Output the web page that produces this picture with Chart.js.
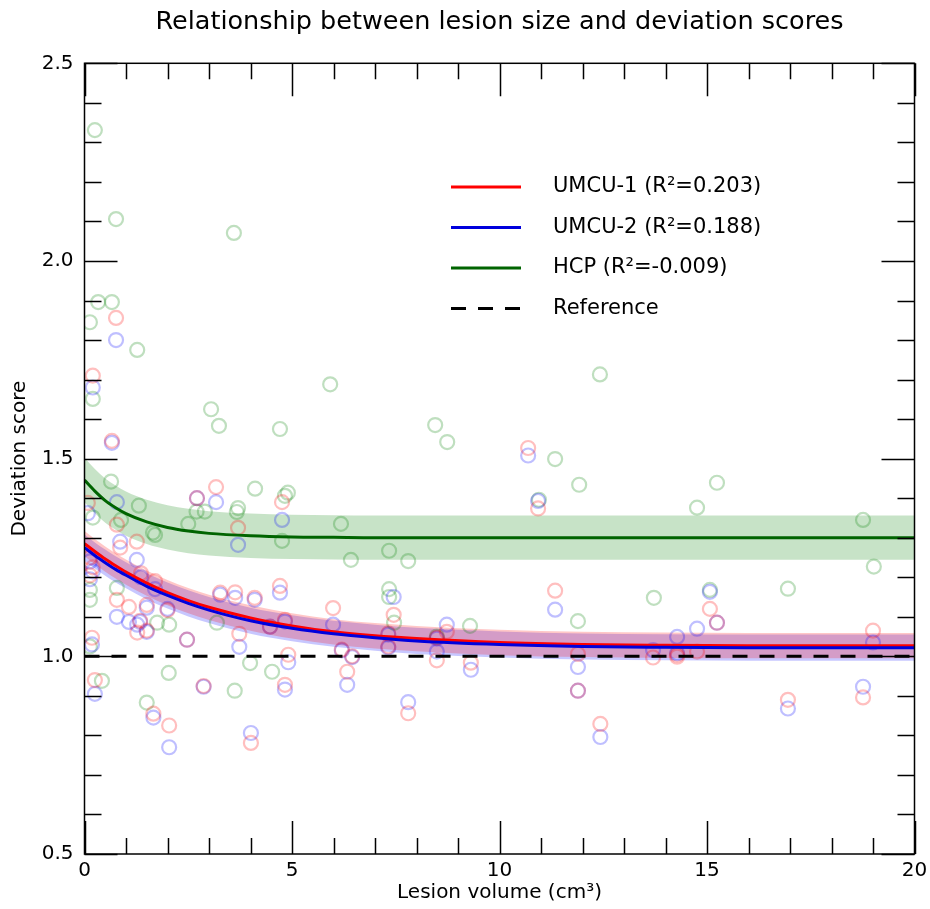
<!DOCTYPE html>
<html>
<head>
<meta charset="utf-8">
<script src="https://cdn.jsdelivr.net/npm/chart.js@4.4.1/dist/chart.umd.min.js"></script>
<style>
  html, body { margin: 0; padding: 0; background: #fff; }
  #wrap { width: 930px; height: 909px; }
</style>
</head>
<body>
<div id="wrap"><canvas id="grafico" width="930" height="909"></canvas></div>
<script>
// Datos: volumen de lesión (cm3) y puntuaciones de desviación
// UMCU-1 y UMCU-2 comparten los mismos sujetos (mismo volumen)
const umcuVolume = [0.76, 0.20, 0.66, 3.17, 2.71, 4.76, 3.70, 0.08, 0.78, 1.26,
  0.86, 0.13, 0.20, 0.13, 1.36, 1.70, 0.78, 1.07, 2.00, 1.50,
  1.34, 1.50, 1.27, 0.18, 2.47, 3.27, 0.25, 2.87, 1.66, 2.04,
  4.01, 4.91, 4.83, 3.73, 3.63, 4.10, 4.71, 4.83, 4.47, 5.99,
  6.20, 6.45, 6.33, 7.45, 7.32, 7.32, 8.49, 8.49, 8.73, 9.31,
  7.80, 11.34, 11.89, 11.89, 12.43, 13.70, 14.28, 14.28, 10.69, 10.93,
  15.07, 14.76, 15.24, 16.95, 18.76, 19.00];
const umcu1Score = [1.856, 1.710, 1.545, 1.428, 1.400, 1.390, 1.325, 1.388, 1.333, 1.290,
  1.275, 1.250, 1.225, 1.205, 1.210, 1.190, 1.143, 1.125, 1.117, 1.130,
  1.090, 1.065, 1.060, 1.047, 1.042, 1.161, 0.940, 0.925, 0.855, 0.825,
  0.781, 1.004, 0.928, 1.057, 1.162, 1.148, 1.178, 1.092, 1.075, 1.122,
  1.017, 1.000, 0.961, 1.105, 1.058, 1.025, 0.990, 1.047, 1.062, 0.984,
  0.856, 1.166, 1.006, 0.913, 0.829, 0.997, 1.004, 0.999, 1.527, 1.374,
  1.120, 1.012, 1.085, 0.890, 0.896, 1.065];
const umcu2Score = [1.800, 1.680, 1.540, 1.390, 1.400, 1.345, 1.282, 1.362, 1.390, 1.244,
  1.290, 1.240, 1.215, 1.195, 1.200, 1.170, 1.100, 1.087, 1.120, 1.123,
  1.087, 1.062, 1.080, 1.030, 1.042, 1.156, 0.905, 0.923, 0.845, 0.770,
  0.806, 0.985, 0.916, 1.024, 1.148, 1.143, 1.161, 1.088, 1.075, 1.080,
  1.015, 0.998, 0.928, 1.150, 1.055, 1.022, 1.012, 1.045, 1.080, 0.966,
  0.884, 1.118, 0.973, 0.913, 0.796, 1.016, 1.049, 1.008, 1.508, 1.393,
  1.163, 1.070, 1.085, 0.868, 0.923, 1.035];

const hcpVolume = [0.25, 0.76, 3.60, 0.13, 0.33, 0.66, 1.27, 0.20, 3.05, 3.24,
  4.71, 5.92, 8.45, 8.74, 11.34, 11.92, 10.95, 12.42, 14.76, 15.24,
  18.76, 19.02, 13.72, 15.07, 16.95, 6.18, 6.42, 7.34, 7.80, 7.34,
  7.34, 9.29, 11.89, 7.46, 8.49, 0.64, 1.31, 0.20, 0.88, 2.50,
  1.70, 2.70, 2.90, 3.67, 0.78, 0.13, 0.13, 1.75, 2.04, 0.13,
  0.42, 2.03, 1.50, 3.62, 4.11, 4.90, 4.83, 4.76, 3.99, 4.52,
  3.19, 1.65, 3.70];
const hcpScore = [2.331, 2.106, 2.071, 1.845, 1.896, 1.896, 1.775, 1.651, 1.625, 1.583,
  1.575, 1.688, 1.585, 1.542, 1.499, 1.434, 1.396, 1.713, 1.376, 1.439,
  1.345, 1.227, 1.148, 1.168, 1.171, 1.335, 1.244, 1.267, 1.241, 1.170,
  1.150, 1.077, 1.089, 1.085, 1.050, 1.442, 1.381, 1.351, 1.345, 1.335,
  1.307, 1.366, 1.366, 1.365, 1.173, 1.168, 1.143, 1.085, 1.080, 1.025,
  0.938, 0.958, 0.883, 0.913, 1.424, 1.414, 1.406, 1.292, 0.983, 0.961,
  1.085, 1.313, 1.375];

// Curvas ajustadas y bandas de confianza
const fitVolume = [0, 0.25, 0.5, 0.75, 1, 1.5, 2, 2.5, 3, 4, 5, 6, 7, 8, 10, 12, 14, 16, 18, 20];
const umcu1Fit   = [1.285, 1.265, 1.246, 1.229, 1.213, 1.185, 1.161, 1.141, 1.124, 1.097, 1.077, 1.062, 1.052, 1.045, 1.035, 1.030, 1.028, 1.027, 1.027, 1.027];
const umcu1Upper = [1.317, 1.297, 1.278, 1.261, 1.245, 1.217, 1.193, 1.173, 1.156, 1.129, 1.109, 1.094, 1.084, 1.077, 1.067, 1.062, 1.060, 1.059, 1.059, 1.059];
const umcu1Lower = [1.253, 1.233, 1.214, 1.197, 1.181, 1.153, 1.129, 1.109, 1.092, 1.065, 1.045, 1.030, 1.020, 1.013, 1.003, 0.998, 0.996, 0.995, 0.995, 0.995];
const umcu2Fit   = [1.275, 1.255, 1.237, 1.220, 1.205, 1.177, 1.154, 1.134, 1.117, 1.090, 1.071, 1.057, 1.047, 1.039, 1.030, 1.025, 1.023, 1.022, 1.022, 1.022];
const umcu2Upper = [1.308, 1.288, 1.270, 1.253, 1.238, 1.210, 1.187, 1.167, 1.150, 1.123, 1.104, 1.090, 1.080, 1.072, 1.063, 1.058, 1.056, 1.055, 1.055, 1.055];
const umcu2Lower = [1.242, 1.222, 1.204, 1.187, 1.172, 1.144, 1.121, 1.101, 1.084, 1.057, 1.038, 1.024, 1.014, 1.006, 0.997, 0.992, 0.990, 0.989, 0.989, 0.989];
const hcpFit     = [1.446, 1.418, 1.394, 1.376, 1.361, 1.340, 1.326, 1.317, 1.311, 1.305, 1.302, 1.301, 1.300, 1.300, 1.300, 1.300, 1.300, 1.300, 1.300, 1.300];
const hcpUpper   = [1.502, 1.474, 1.450, 1.432, 1.417, 1.396, 1.382, 1.373, 1.367, 1.361, 1.358, 1.357, 1.356, 1.356, 1.356, 1.356, 1.356, 1.356, 1.356, 1.356];
const hcpLower   = [1.390, 1.362, 1.338, 1.320, 1.305, 1.284, 1.270, 1.261, 1.255, 1.249, 1.246, 1.245, 1.244, 1.244, 1.244, 1.244, 1.244, 1.244, 1.244, 1.244];

const refVolume = [0, 20];
const refScore  = [1, 1];

const seriesLabels = ["UMCU-1 (R²=0.203)", "UMCU-2 (R²=0.188)", "HCP (R²=-0.009)", "Reference"];

const FONT = "'DejaVu Sans', sans-serif";

function toPoints(xs, ys) {
  return xs.map((x, i) => ({ x: x, y: ys[i] }));
}

function band(ys, fill, color) {
  return {
    type: "line",
    data: toPoints(fitVolume, ys),
    borderWidth: 0,
    pointRadius: 0,
    fill: fill,
    backgroundColor: color,
    cubicInterpolationMode: "monotone",
    order: 20
  };
}

function scatter(xs, ys, color) {
  return {
    type: "scatter",
    data: toPoints(xs, ys),
    pointRadius: 7,
    pointHoverRadius: 7,
    borderWidth: 2.2,
    borderColor: color,
    backgroundColor: "rgba(0,0,0,0)",
    order: 10
  };
}

function fitLine(ys, color, label, order) {
  return {
    type: "line",
    data: toPoints(fitVolume, ys),
    borderColor: color,
    borderWidth: 3,
    pointRadius: 0,
    fill: false,
    cubicInterpolationMode: "monotone",
    legendLabel: label,
    order: order
  };
}

// Marco y marcas de ejes hacia dentro (mayores y menores)
const framePlugin = {
  id: "frame",
  afterDraw(chart) {
    const ctx = chart.ctx;
    const a = chart.chartArea;
    const xs = chart.scales.x;
    const ys = chart.scales.y;
    ctx.save();
    ctx.strokeStyle = "#000";
    ctx.lineWidth = 1.5;
    for (let v = 0; v <= 20; v += 1) {
      const px = Math.round(xs.getPixelForValue(v)) + 0.5;
      const len = v % 5 === 0 ? 33 : 16;
      ctx.beginPath();
      ctx.moveTo(px, a.bottom); ctx.lineTo(px, a.bottom - len);
      ctx.moveTo(px, a.top); ctx.lineTo(px, a.top + len);
      ctx.stroke();
    }
    for (let i = 5; i <= 25; i++) {
      const py = Math.round(ys.getPixelForValue(i / 10)) + 0.5;
      const len = i % 5 === 0 ? 33 : 17;
      ctx.beginPath();
      ctx.moveTo(a.left, py); ctx.lineTo(a.left + len, py);
      ctx.moveTo(a.right, py); ctx.lineTo(a.right - len, py);
      ctx.stroke();
    }
    ctx.strokeRect(a.left, a.top, a.right - a.left, a.bottom - a.top);
    ctx.restore();
  }
};

// Leyenda dentro del área del gráfico
const legendPlugin = {
  id: "legendaInterna",
  afterDraw(chart) {
    const ctx = chart.ctx;
    const items = chart.data.datasets.filter(d => d.legendLabel);
    items.sort((p, q) => seriesLabels.indexOf(p.legendLabel) - seriesLabels.indexOf(q.legendLabel));
    ctx.save();
    ctx.font = "21px " + FONT;
    ctx.textBaseline = "middle";
    ctx.fillStyle = "#000";
    items.forEach((d, i) => {
      const y = 187 + i * 40.5;
      ctx.strokeStyle = d.borderColor;
      ctx.lineWidth = 3;
      ctx.setLineDash(d.borderDash || []);
      ctx.beginPath();
      ctx.moveTo(451, y); ctx.lineTo(521, y);
      ctx.stroke();
      ctx.setLineDash([]);
      ctx.fillText(d.legendLabel, 553, y);
    });
    ctx.restore();
  }
};

const ctx = document.getElementById("grafico").getContext("2d");

new Chart(ctx, {
  data: {
    datasets: [
      band(umcu1Upper, "+1", "rgba(255,0,0,0.22)"),
      band(umcu1Lower, false, "rgba(0,0,0,0)"),
      band(umcu2Upper, "+1", "rgba(0,0,255,0.22)"),
      band(umcu2Lower, false, "rgba(0,0,0,0)"),
      band(hcpUpper, "+1", "rgba(0,128,0,0.22)"),
      band(hcpLower, false, "rgba(0,0,0,0)"),
      scatter(umcuVolume, umcu1Score, "rgba(255,0,0,0.25)"),
      scatter(umcuVolume, umcu2Score, "rgba(0,0,255,0.25)"),
      scatter(hcpVolume, hcpScore, "rgba(0,128,0,0.25)"),
      {
        type: "line",
        data: toPoints(refVolume, refScore),
        borderColor: "#000",
        borderWidth: 3,
        borderDash: [15, 12],
        pointRadius: 0,
        fill: false,
        legendLabel: seriesLabels[3],
        order: 4
      },
      fitLine(umcu1Fit, "#ff0000", seriesLabels[0], 3),
      fitLine(umcu2Fit, "#0000dd", seriesLabels[1], 2),
      fitLine(hcpFit, "#006400", seriesLabels[2], 1)
    ]
  },
  options: {
    responsive: false,
    animation: false,
    devicePixelRatio: 1,
    layout: { padding: { left: 0, right: 15.5, top: 0, bottom: 0 } },
    plugins: {
      legend: { display: false },
      tooltip: { enabled: false },
      title: {
        display: true,
        fullSize: false,
        text: "Relationship between lesion size and deviation scores",
        color: "#000",
        font: { family: FONT, size: 25.5, weight: "normal" },
        padding: { top: 7, bottom: 25.7 }
      }
    },
    scales: {
      x: {
        type: "linear",
        min: 0,
        max: 20,
        grid: { display: false, drawTicks: false },
        border: { display: false },
        ticks: {
          stepSize: 5,
          color: "#000",
          padding: 5,
          font: { family: FONT, size: 20 }
        },
        title: {
          display: true,
          text: "Lesion volume (cm³)",
          color: "#000",
          font: { family: FONT, size: 20 },
          padding: { top: 0, bottom: 4 }
        },
        afterFit(scale) {
          scale.height = 55;
          scale.paddingLeft = 0;
          scale.paddingRight = 0;
        }
      },
      y: {
        type: "linear",
        min: 0.5,
        max: 2.5,
        grid: { display: false, drawTicks: false },
        border: { display: false },
        ticks: {
          stepSize: 0.5,
          color: "#000",
          padding: 11,
          font: { family: FONT, size: 20 },
          callback: v => v.toFixed(1)
        },
        title: {
          display: true,
          text: "Deviation score",
          color: "#000",
          font: { family: FONT, size: 20 },
          padding: { top: 8, bottom: 0 }
        },
        afterFit(scale) {
          scale.width = 84.5;
          scale.paddingTop = 0;
          scale.paddingBottom = 0;
        }
      }
    }
  },
  plugins: [framePlugin, legendPlugin]
});
</script>
</body>
</html>
